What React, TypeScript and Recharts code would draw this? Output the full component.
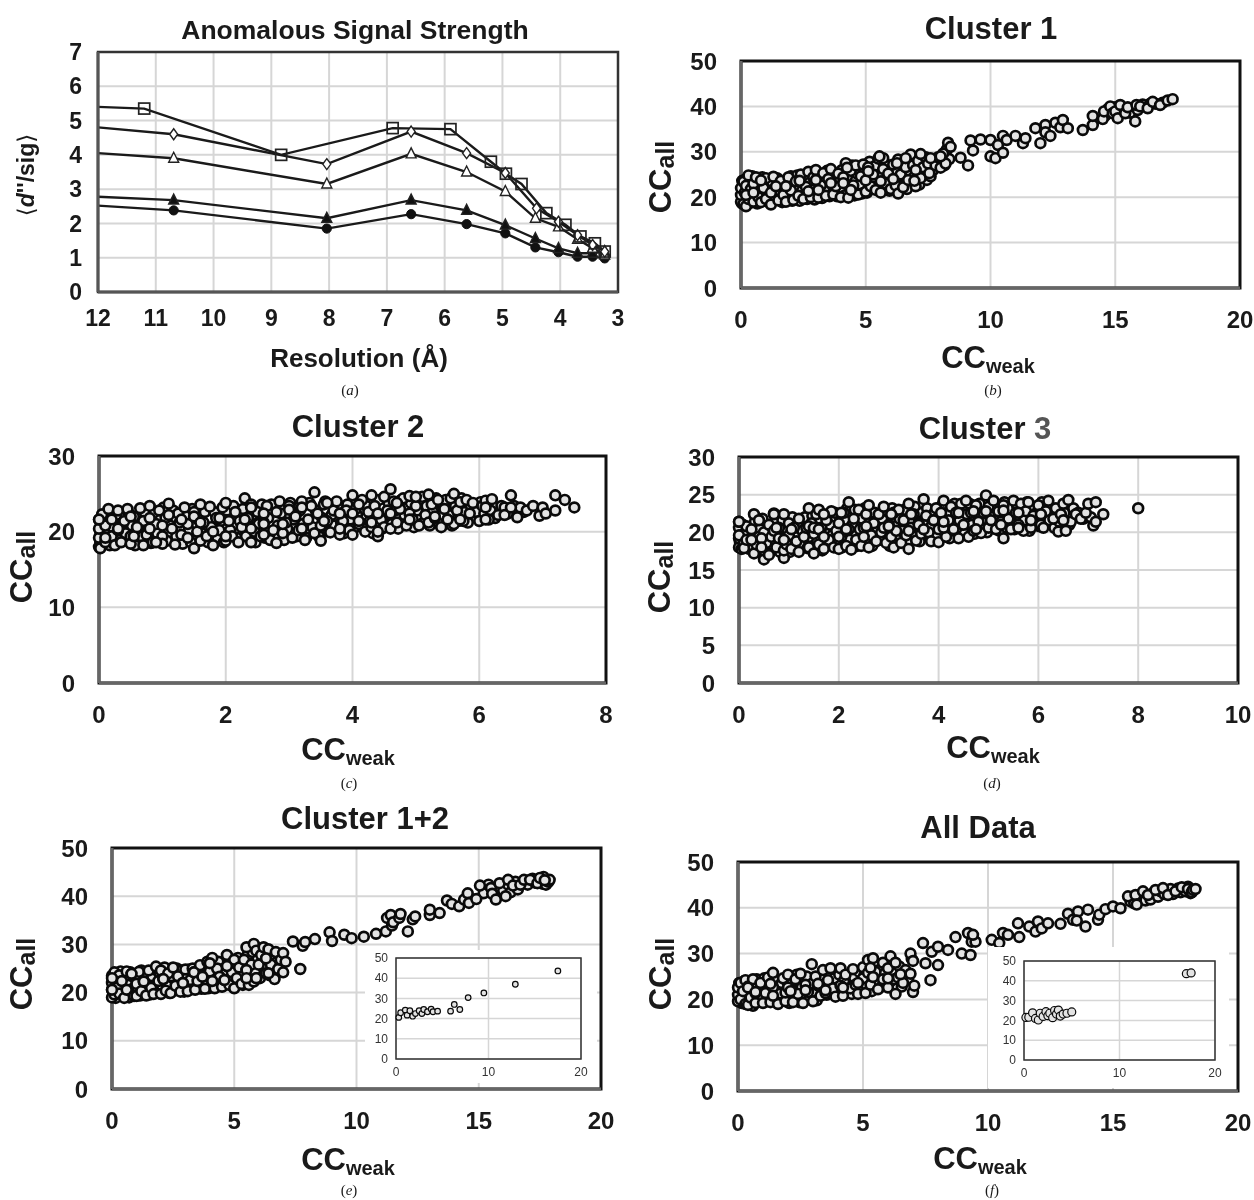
import { CSSProperties, ReactNode } from "react";
import {
  CartesianGrid,
  Line,
  LineChart,
  ReferenceArea,
  Scatter,
  ScatterChart,
  XAxis,
  YAxis,
} from "recharts";

type Pair = number[];

// panel (a): [resolution, <d''/sig>]
const squareSeries: Pair[] = [[12, 5.4], [11.2, 5.35], [8.83, 4.0], [6.9, 4.78], [5.9, 4.75], [5.2, 3.8], [4.94, 3.45], [4.67, 3.15], [4.24, 2.3], [3.91, 1.96], [3.65, 1.62], [3.4, 1.42], [3.23, 1.18]];
const diamondSeries: Pair[] = [[12, 4.8], [10.69, 4.6], [8.04, 3.73], [6.58, 4.68], [5.62, 4.05], [4.95, 3.47], [4.41, 2.44], [4.03, 2.05], [3.7, 1.66], [3.44, 1.37], [3.23, 1.18]];
const openTriangleSeries: Pair[] = [[12, 4.05], [10.69, 3.9], [8.04, 3.15], [6.58, 4.03], [5.62, 3.5], [4.95, 2.93], [4.43, 2.15], [4.03, 1.9], [3.7, 1.54], [3.44, 1.28], [3.23, 1.08]];
const filledTriangleSeries: Pair[] = [[12, 2.78], [10.69, 2.68], [8.04, 2.15], [6.58, 2.68], [5.62, 2.38], [4.95, 1.95], [4.43, 1.56], [4.03, 1.27], [3.7, 1.13], [3.44, 1.13], [3.23, 1.18]];
const filledCircleSeries: Pair[] = [[12, 2.52], [10.69, 2.38], [8.04, 1.85], [6.58, 2.27], [5.62, 1.98], [4.95, 1.71], [4.43, 1.3], [4.03, 1.16], [3.7, 1.03], [3.44, 1.03], [3.23, 0.98]];

// densest part of each cloud, drawn first so it sits under the rings you can still read
const cluster1Under: Pair[] = [
  [0.05, 18.6], [0.05, 23.6], [0.1, 21.4], [0.2, 24], [0.25, 19], [0.35, 22.6], [0.4, 18.8], [0.45, 24.6], [0.6, 20.6], [0.65, 18.6], [0.75, 23], [0.85, 24.4], [0.9, 20.4], [1.05, 22.8], [1.1, 18.9], [1.25, 23.4], [1.35, 20], [1.45, 24.2], [1.55, 21.4], [1.65, 18.9],
  [1.75, 23], [1.85, 20.6], [2, 24.6], [2.05, 19.2], [2.15, 21.8], [2.25, 24.8], [2.35, 19.2], [2.45, 21.4], [2.55, 24.6], [2.65, 19.6], [2.75, 23.2], [2.85, 21.6], [2.95, 19.5], [3.05, 25.4], [3.15, 24], [3.25, 19.8], [3.35, 22], [3.45, 25.8], [3.55, 20.2], [3.65, 22.8],
  [3.75, 25], [3.85, 20.2], [3.95, 23.4], [4.05, 26], [4.15, 20.4], [4.25, 24.6], [4.35, 22], [4.45, 27], [4.55, 20.4], [4.65, 25.2], [4.75, 22.8], [4.85, 20.8], [4.95, 25.8], [5.05, 21], [5.15, 27.8], [5.25, 24], [5.35, 26.8], [5.45, 22.4], [5.55, 25], [5.65, 21.8],
  [5.75, 27.6], [5.85, 24.2], [5.95, 21.4], [6.05, 26], [6.15, 23.2], [6.25, 25.6], [6.35, 22], [6.45, 28], [6.55, 24.4], [6.65, 21.8], [6.75, 25.8], [6.85, 28.4], [6.95, 24.6], [7.05, 27], [7.15, 22.8], [7.25, 28.4], [7.35, 25.4], [7.45, 23.8], [7.55, 27], [7.7, 26],
  [7.85, 27.8], [8.05, 28], [8.15, 27], [8.25, 30.5], [8.35, 28.4], [14.6, 38], [14.7, 39.4], [15, 39.8], [15.1, 38.2], [15.3, 39.4], [15.6, 38.6], [15.9, 39.2], [16.1, 40.4], [16.4, 40.6], [16.6, 40.6], [16.9, 40.8],
];

const cluster2Under: Pair[] = [
  [0.02, 18.6], [0.02, 20], [0.04, 21], [0.08, 22.2], [0.12, 19.6], [0.17, 18.2], [0.22, 20.6], [0.27, 22.2], [0.32, 18.9], [0.37, 21], [0.42, 19.8], [0.47, 22.4], [0.52, 20.8], [0.57, 18.2], [0.62, 21.8], [0.67, 19.4], [0.72, 22.6], [0.77, 20.2], [0.82, 18.5], [0.87, 22.4],
  [0.92, 19.8], [0.97, 21.6], [1.02, 23.2], [1.07, 18.8], [1.12, 20.8], [1.17, 22.8], [1.22, 19.4], [1.27, 21.2], [1.32, 18.4], [1.37, 22.2], [1.42, 20.2], [1.47, 23], [1.52, 18.8], [1.57, 21.6], [1.62, 19.8], [1.67, 22.6], [1.72, 18.6], [1.77, 20.6], [1.82, 22.6], [1.87, 19.2],
  [1.92, 21.4], [1.97, 18.6], [2.02, 22.8], [2.07, 20.2], [2.12, 23.4], [2.17, 19.2], [2.22, 21.4], [2.27, 23], [2.32, 19.4], [2.37, 20.8], [2.42, 22.2], [2.47, 18.6], [2.52, 21], [2.57, 23.6], [2.62, 19.2], [2.67, 21.8], [2.72, 23.6], [2.77, 19.6], [2.82, 20.8], [2.87, 22.4],
  [2.92, 18.9], [2.97, 20.4], [3.02, 23.8], [3.07, 21.6], [3.12, 19.4], [3.17, 22.8], [3.22, 21], [3.27, 19.2], [3.32, 23.8], [3.37, 20.6], [3.42, 22.8], [3.47, 19.4], [3.52, 21.8], [3.57, 24], [3.62, 20], [3.67, 22.2], [3.72, 20.8], [3.77, 23.6], [3.82, 21.2], [3.87, 19.8],
  [3.92, 23.6], [3.97, 21.6], [4.02, 20.4], [4.07, 22.2], [4.12, 24], [4.17, 20.8], [4.22, 23.4], [4.27, 21.4], [4.32, 19.8], [4.37, 21.8], [4.42, 24.2], [4.47, 20.4], [4.52, 22.2], [4.57, 23.8], [4.62, 21], [4.67, 22.8], [4.72, 20.4], [4.77, 24.2], [4.82, 22.2], [4.87, 21],
  [4.92, 23.8], [4.97, 20.6], [5.02, 22.8], [5.07, 24.2], [5.12, 21.2], [5.17, 23.4], [5.22, 20.8], [5.27, 22.6], [5.32, 24.4], [5.37, 21], [5.42, 23.2], [5.47, 24.2], [5.52, 22.2], [5.57, 20.8], [5.62, 23.4], [5.67, 21.4], [5.72, 24.4], [5.77, 22.6], [5.82, 21.2], [5.87, 23.4],
  [5.95, 22.6], [6.02, 23.9], [6.08, 22.4], [6.18, 22.8], [6.25, 21.8], [6.35, 23.4], [6.45, 22.4], [6.55, 23.4], [6.7, 22.6],
];

const cluster3Under: Pair[] = [
  [0.02, 18.6], [0.03, 20], [0.08, 21], [0.12, 18.2], [0.17, 19.4], [0.22, 20.6], [0.27, 18.2], [0.32, 21.4], [0.37, 17.4], [0.42, 20.4], [0.47, 21.8], [0.52, 18.9], [0.57, 17.4], [0.62, 20], [0.67, 18.4], [0.72, 21.4], [0.77, 19.4], [0.82, 17.4], [0.87, 21.6], [0.92, 18.4],
  [0.97, 20.2], [1.02, 17.4], [1.07, 22], [1.12, 19.4], [1.17, 21], [1.22, 18.4], [1.27, 20.2], [1.32, 22], [1.37, 17.9], [1.42, 19.4], [1.47, 22.2], [1.52, 21.2], [1.57, 18.8], [1.62, 21.8], [1.67, 17.6], [1.72, 20.2], [1.77, 18.4], [1.82, 21], [1.87, 19.6], [1.92, 22.6],
  [1.97, 18.4], [2.02, 20.6], [2.07, 18], [2.12, 21.6], [2.17, 23.2], [2.22, 19], [2.27, 21], [2.32, 23], [2.37, 18.2], [2.42, 20.4], [2.47, 21.8], [2.52, 23.2], [2.57, 18.8], [2.62, 21.4], [2.67, 18.2], [2.72, 22.6], [2.77, 20.6], [2.82, 19], [2.87, 21.8], [2.92, 20.2],
  [2.97, 22.8], [3.02, 18.2], [3.07, 23.2], [3.12, 20.8], [3.17, 19], [3.22, 21.8], [3.27, 20.2], [3.32, 23], [3.37, 18.6], [3.42, 21.6], [3.47, 19.8], [3.52, 23.4], [3.57, 20.6], [3.62, 18.8], [3.67, 22.6], [3.72, 21], [3.77, 23.2], [3.82, 19.4], [3.87, 21], [3.92, 22.6],
  [3.97, 19.6], [4.02, 21.4], [4.07, 23.6], [4.12, 20], [4.17, 22.6], [4.22, 19.2], [4.27, 21], [4.32, 23.8], [4.37, 20], [4.42, 21.6], [4.47, 23.2], [4.52, 19.8], [4.57, 22.4], [4.62, 23.8], [4.67, 21], [4.72, 19.8], [4.77, 22.4], [4.82, 23.8], [4.87, 20.8], [4.92, 21.8],
  [4.97, 20], [5.02, 22.2], [5.07, 23.8], [5.12, 21], [5.17, 23.4], [5.22, 20.2], [5.27, 22.4], [5.32, 24], [5.37, 20.6], [5.42, 23.2], [5.47, 21.6], [5.52, 20.4], [5.57, 23.6], [5.62, 22], [5.67, 20.4], [5.72, 21.6], [5.77, 24], [5.82, 20.2], [5.87, 23.2], [5.92, 21.4],
  [5.97, 22.6], [6.02, 20.8], [6.07, 24], [6.12, 21.8], [6.22, 21.6], [6.27, 23.2], [6.32, 20.6], [6.42, 21.4], [6.52, 22.6], [6.62, 21], [6.7, 23.2], [6.8, 22.6], [6.9, 21.8], [7.05, 22],
];

const cluster12Under: Pair[] = [
  [0.05, 21.6], [0.15, 18.9], [0.15, 23], [0.25, 21.8], [0.35, 24.4], [0.45, 19.6], [0.55, 23], [0.65, 21.6], [0.7, 19], [0.75, 24.2], [0.85, 20.8], [0.95, 23], [1.05, 21], [1.15, 19.4], [1.2, 24.6], [1.25, 21.8], [1.35, 23.6], [1.45, 20.6], [1.55, 19.6], [1.65, 23.4],
  [1.75, 24.8], [1.85, 20.4], [1.95, 24], [2.05, 21.4], [2.15, 25.2], [2.25, 21.4], [2.35, 19.9], [2.45, 23.4], [2.55, 20.4], [2.65, 25], [2.75, 22], [2.85, 24.6], [2.95, 20.2], [3.05, 23], [3.15, 24.8], [3.25, 21], [3.45, 24.6], [3.55, 21.4], [3.65, 20.8], [3.75, 25.4],
  [3.85, 22.4], [3.95, 20.9], [4.05, 24.8], [4.15, 26.6], [4.25, 23.4], [4.35, 26.4], [4.45, 24.8], [4.55, 21.4], [4.65, 24], [4.75, 27], [4.85, 22.8], [4.95, 25.8], [5.05, 22], [5.15, 27.2], [5.25, 23.8], [5.35, 21.6], [5.45, 25.8], [5.55, 27.8], [5.65, 23], [5.75, 28.4],
  [5.85, 24.2], [5.95, 26.8], [6.05, 23], [6.15, 27.6], [6.25, 25], [6.35, 28], [6.45, 23.6], [6.55, 27.4], [6.75, 26.4], [6.85, 27.8], [15.2, 40.6], [15.4, 42.4], [15.7, 41], [16, 41.2], [16.2, 42.4], [16.3, 40.8], [16.5, 43], [16.6, 41.4], [16.8, 42.6], [17, 42.4], [17.2, 43.6], [17.3, 42.8], [17.6, 42.6], [17.65, 44],
];

const allDataUnder: Pair[] = [
  [0.05, 20.4], [0.05, 23.6], [0.15, 19.2], [0.15, 22], [0.25, 24], [0.25, 20.2], [0.35, 22.4], [0.45, 19.6], [0.55, 23.4], [0.6, 18.6], [0.65, 21.2], [0.75, 24.4], [0.85, 20], [0.95, 22.2], [1.05, 24.6], [1.15, 19.6], [1.25, 22.8], [1.35, 20.6], [1.45, 24.2], [1.55, 21.8],
  [1.65, 19.6], [1.75, 23.6], [1.85, 20.4], [1.95, 24], [2.05, 19.2], [2.15, 23.4], [2.25, 21], [2.35, 25.4], [2.45, 19.4], [2.55, 22.6], [2.65, 20.4], [2.75, 25], [2.85, 20], [2.95, 23.4], [3.05, 21.4], [3.15, 19.8], [3.25, 24.4], [3.35, 22.6], [3.45, 24.8], [3.55, 21], [3.65, 26],
  [3.75, 23.2], [3.85, 24.6], [3.95, 21.4], [4.05, 25.4], [4.15, 21.8], [4.25, 24.2], [4.35, 22], [4.45, 25.4], [4.55, 21.2], [4.65, 24.8], [4.75, 22.2], [4.85, 26], [4.95, 22.6], [5.05, 25.2], [5.15, 23], [5.25, 27.4], [5.35, 21.8], [5.45, 27.6], [5.55, 24], [5.65, 26.4],
  [5.75, 22.8], [5.85, 25.6], [5.95, 27.6], [6.05, 23.6], [6.15, 28], [6.25, 24.4], [6.45, 27.2], [6.55, 22.8], [6.7, 26.4], [6.8, 24.4], [6.95, 28.8],
  [15.7, 41.4], [15.85, 41], [16, 41.6], [16.1, 42.4], [16.3, 41.6], [16.5, 41.8], [16.6, 43.2], [16.8, 42.4], [16.9, 43.6], [17.05, 43], [17.3, 44.1], [17.4, 43], [17.6, 44.2], [17.7, 43.4], [17.9, 43.6], [18, 44.6], [18.1, 43.2],
];

const cluster1Points: Pair[] = [
  [0, 19], [0, 20.5], [0, 22], [0.1, 18.5], [0.1, 23.4], [0.15, 21], [0.2, 18], [0.2, 22.5], [0.3, 19.6], [0.3, 24.8], [0.4, 21.8], [0.5, 19], [0.5, 23], [0.6, 24.4], [0.7, 20], [0.8, 18.9], [0.9, 22], [1, 24.2], [1, 19.6], [1.2, 18.4],
  [1.2, 21], [1.3, 24.5], [1.5, 19.3], [1.6, 23.6], [1.7, 20.5], [1.8, 19], [1.9, 24.4], [2, 21.5], [2.1, 19.4], [2.2, 23.5], [2.3, 20.3], [2.4, 25], [2.5, 19.6], [2.6, 22.3], [2.7, 25.6], [2.8, 20], [2.9, 24.4], [3, 26], [3.1, 19.9], [3.2, 22.6],
  [3.3, 25.3], [3.4, 20.3], [3.5, 24], [3.6, 26.2], [3.7, 20.6], [3.8, 22.4], [3.9, 25.2], [4, 20], [4.1, 24.4], [4.2, 27.5], [4.3, 19.9], [4.4, 25.8], [4.5, 22.6], [4.6, 27], [4.7, 20.6], [4.8, 24.6], [4.9, 27.2], [5, 21.2], [5.1, 26.6], [5.2, 22.4],
  [5.3, 25], [5.4, 21.6], [5.5, 28.5], [5.6, 21], [5.7, 26.2], [5.7, 28.6], [5.8, 23], [5.9, 25.2], [6, 21.8], [6.1, 27.2], [6.2, 22.6], [6.3, 20.8], [6.3, 28.3], [6.4, 25], [6.5, 22.2], [6.6, 26.6], [6.7, 23.8], [6.8, 29.4], [6.9, 27], [7, 22.4],
  [7.1, 28], [7.2, 24.2], [7.3, 26.6], [7.4, 28.8], [7.5, 27.4], [7.6, 24.6], [7.8, 27], [7.9, 28.8], [8, 26.5], [8.1, 29.6], [8.2, 27.4], [0.2, 20.5], [0.5, 21], [0.8, 23.7], [1.4, 22.4], [1.8, 22.4], [2.35, 23.6], [2.7, 21.3], [3, 23.8], [3.1, 21.6],
  [3.6, 23.1], [4.1, 23.1], [4.25, 26.5], [4.4, 21.6], [5, 23.7], [5.1, 25.7], [5.6, 23.5], [5.55, 29], [6.1, 24], [6.25, 27.5], [6.6, 28.6], [6.95, 23.6], [7, 26], [7.2, 29.5], [7.55, 25.3], [7.6, 28.6], [8, 29],
  [8.3, 32], [8.4, 31.1], [8.8, 28.7], [9.1, 27], [9.2, 32.5], [9.3, 30.3], [9.6, 32.7], [10, 32.6], [10, 29], [10.2, 28.6], [10.3, 31.5], [10.5, 29.8], [10.5, 33.5], [10.65, 32.6], [11, 33.5], [11.3, 31.9], [11.4, 33], [11.8, 35.2], [12, 31.9], [12.2, 35.9],
  [12.2, 34.3], [12.4, 33.5], [12.6, 36.4], [12.8, 35.4], [12.9, 37], [13.1, 35.2], [13.7, 34.8], [14.1, 35.9], [14.1, 37.9], [14.5, 37.2], [14.55, 38.9], [14.8, 40], [14.9, 38.5], [15, 38.9], [15.1, 37.4], [15.2, 40.3], [15.4, 38.5], [15.5, 39.8], [15.8, 36.7], [15.85, 40.3],
  [16, 40], [16.3, 39.6], [16.5, 41], [16.8, 40.3], [17.1, 41.3], [17.3, 41.6],
];

const cluster2Points: Pair[] = [
  [0, 18], [0, 19.2], [0, 20.4], [0, 21.6], [0.02, 17.8], [0.05, 22.3], [0.1, 18.6], [0.1, 20.8], [0.15, 23], [0.2, 19.4], [0.2, 21.6], [0.25, 18.2], [0.3, 22.8], [0.3, 20.2], [0.35, 18.6], [0.4, 21.4], [0.45, 23], [0.5, 19.4], [0.5, 18.4], [0.55, 22],
  [0.6, 20.4], [0.65, 23.1], [0.7, 18.2], [0.7, 21.4], [0.75, 19.6], [0.8, 23.4], [0.85, 18.6], [0.9, 21], [0.95, 22.8], [1, 19.4], [1, 18.4], [1.05, 21.8], [1.1, 23.7], [1.15, 20.4], [1.2, 18.3], [1.25, 22.4], [1.3, 19.6], [1.35, 23.2], [1.4, 21], [1.45, 18.6],
  [1.5, 17.8], [1.5, 22.6], [1.55, 20], [1.6, 23.6], [1.6, 18.8], [1.65, 21.2], [1.7, 19.4], [1.75, 23.3], [1.8, 18.2], [1.85, 21.8], [1.9, 20.2], [1.95, 23.2], [2, 18.8], [2, 23.8], [2.05, 21.4], [2.1, 19.4], [2.15, 22.6], [2.2, 18.6], [2.25, 20.6], [2.3, 24.4],
  [2.35, 21.8], [2.4, 18.6], [2.4, 23.6], [2.45, 20], [2.5, 22.6], [2.55, 19.4], [2.6, 21.2], [2.65, 23.4], [2.7, 18.9], [2.75, 20.2], [2.8, 18.5], [2.8, 22.6], [2.85, 24], [2.9, 19.8], [2.95, 21.2], [3, 23.4], [3.05, 19.2], [3.1, 22.2], [3.15, 20.2], [3.2, 24],
  [3.25, 18.9], [3.3, 21.6], [3.35, 23.4], [3.4, 25.2], [3.4, 19.8], [3.45, 22.4], [3.5, 18.8], [3.5, 20.8], [3.55, 23.6], [3.6, 21.4], [3.65, 19.9], [3.7, 22.8], [3.75, 24], [3.8, 19.6], [3.85, 21.4], [3.9, 22.8], [3.95, 20.2], [4, 24.8], [4, 19.6], [4.05, 23],
  [4.1, 21], [4.15, 24.2], [4.2, 20], [4.25, 22.6], [4.3, 24.8], [4.3, 20.6], [4.35, 23.4], [4.4, 19.4], [4.45, 21.6], [4.5, 24.6], [4.5, 20.6], [4.55, 22.8], [4.6, 25.6], [4.6, 20.4], [4.65, 24], [4.7, 21.2], [4.75, 23], [4.8, 24.4], [4.85, 20.8], [4.9, 22.4],
  [4.9, 24.7], [4.95, 21.6], [5, 23.4], [5.05, 20.8], [5.1, 24.6], [5.15, 22.2], [5.2, 24.9], [5.2, 21.2], [5.25, 23.6], [5.3, 21.8], [5.35, 24.2], [5.4, 20.6], [5.45, 23], [5.5, 21.6], [5.55, 24.4], [5.6, 21], [5.6, 25], [5.65, 22.8], [5.7, 23.9], [5.75, 21.4],
  [5.8, 24.2], [5.85, 22.4], [5.9, 23.8], [6, 21.4], [6.05, 23.4], [6.1, 24.1], [6.15, 21.6], [6.2, 24.3], [6.3, 22.2], [6.4, 23.2], [6.5, 24.8], [6.6, 21.9], [6.65, 23.2], [6.75, 22.8], [6.85, 23.4], [6.95, 22.1], [7, 23.2], [7.05, 22.4], [7.2, 22.8], [7.2, 24.8],
  [7.35, 24.2], [7.5, 23.2], [0, 21.6], [0.1, 19.2], [0.3, 20.4], [0.5, 22], [0.55, 19.4], [0.6, 20.6], [0.8, 21.8], [0.8, 20.4], [0.9, 18.6], [1.0, 20.8], [1.1, 22.2], [1.3, 21.6], [1.4, 19.2], [1.5, 22], [1.6, 21.2], [1.8, 20], [1.9, 21.8], [2, 19.4],
  [2.3, 21.6], [2.4, 20.4], [2.4, 23.2], [2.6, 22.4], [2.6, 21], [2.6, 19.6], [2.9, 21], [3, 22.9], [3.1, 22], [3.2, 20.4], [3.2, 23.2], [3.55, 21.4], [3.6, 23.8], [3.8, 20.4], [3.8, 22.4], [4, 22.4], [4.1, 21.4], [4.1, 23.6], [4.3, 21.2], [4.4, 20], [4.4, 22.4], [4.6, 22.4], [4.7, 23.8], [4.9, 21.6], [5, 24.6], [5.3, 22], [5.5, 21.6], [5.7, 21.6], [6.1, 23.2], [6.1, 21.6], [6.4, 22.2], [6.5, 23.2],
];

const cluster3Points: Pair[] = [
  [0, 18], [0, 19.2], [0, 20.6], [0, 21.4], [0.05, 17.8], [0.1, 18.6], [0.1, 19.8], [0.15, 20.8], [0.2, 17.8], [0.2, 19], [0.25, 20.4], [0.3, 17.2], [0.3, 22.4], [0.35, 18.4], [0.4, 19.4], [0.4, 21.6], [0.5, 16.4], [0.5, 17.6], [0.5, 20], [0.55, 18.6],
  [0.6, 17], [0.6, 21], [0.65, 19.4], [0.7, 20.2], [0.7, 22.5], [0.75, 18], [0.8, 19.2], [0.8, 20.6], [0.9, 16.6], [0.9, 22.4], [0.9, 17.6], [0.95, 18.4], [1, 19.6], [1, 21.2], [1.05, 17.8], [1.1, 20.6], [1.15, 18.8], [1.2, 17.4], [1.2, 21.8], [1.3, 19.4],
  [1.35, 20.6], [1.4, 18], [1.4, 23.2], [1.45, 21.2], [1.5, 17.2], [1.5, 19.8], [1.55, 22.4], [1.6, 18.4], [1.6, 23], [1.65, 20.6], [1.7, 17.8], [1.75, 21.6], [1.8, 19], [1.85, 22.8], [1.9, 18], [1.95, 20.2], [2, 17.8], [2, 21.2], [2.05, 19.4], [2.1, 22.6],
  [2.15, 18.2], [2.2, 24], [2.2, 20.4], [2.25, 17.7], [2.3, 21.8], [2.35, 19], [2.4, 23], [2.45, 18.2], [2.5, 20.6], [2.55, 22.4], [2.6, 18], [2.6, 23.6], [2.65, 19.6], [2.7, 21.2], [2.75, 18.8], [2.8, 22.4], [2.85, 20], [2.9, 23.4], [2.95, 18.6], [3, 21],
  [3.05, 19.4], [3.1, 18], [3.1, 22.6], [3.15, 20.2], [3.2, 23], [3.25, 18.6], [3.3, 21.6], [3.35, 19.6], [3.4, 17.8], [3.4, 23.8], [3.45, 20.6], [3.5, 22.4], [3.55, 18.9], [3.6, 21.2], [3.65, 19.8], [3.7, 24.4], [3.75, 22.2], [3.8, 20], [3.85, 18.8], [3.9, 21.6],
  [3.95, 23.2], [4, 18.7], [4, 20.4], [4.05, 22.6], [4.1, 24.2], [4.15, 19.4], [4.2, 21.6], [4.25, 23.4], [4.3, 20.4], [4.35, 22.6], [4.4, 19.2], [4.45, 23.8], [4.5, 21], [4.55, 24.2], [4.6, 19.4], [4.65, 22.6], [4.7, 20.2], [4.75, 23.6], [4.8, 21.4], [4.85, 19.9],
  [4.9, 22.6], [4.95, 24.9], [5, 20.6], [5, 23.4], [5.05, 21.6], [5.1, 24.2], [5.15, 20.4], [5.2, 22.8], [5.25, 21.4], [5.3, 19.2], [5.3, 23.6], [5.4, 21.8], [5.45, 20.4], [5.5, 24.2], [5.55, 22.6], [5.6, 21], [5.65, 23.8], [5.7, 20.2], [5.75, 22.8], [5.8, 24],
  [5.85, 20.6], [5.9, 22.2], [6, 23.6], [6.05, 21], [6.1, 20.6], [6.15, 22.8], [6.2, 24.2], [6.3, 21.8], [6.35, 23.2], [6.4, 20.1], [6.45, 22.4], [6.5, 23.8], [6.55, 20.2], [6.6, 24.3], [6.65, 21.4], [6.75, 22.4], [6.85, 21.8], [6.95, 22.6], [7, 23.8], [7.1, 20.9],
  [7.15, 24], [7.15, 21.4], [7.3, 22.4], [8, 23.2], [0, 21.4], [0, 19.6], [0.1, 17.9], [0.15, 19], [0.25, 19], [0.45, 19.2], [0.45, 18], [0.7, 22.4], [0.75, 20.6], [0.9, 19], [1.05, 20.4], [1.4, 20.8], [1.5, 20.6], [1.6, 20.4], [1.7, 22.4], [1.7, 19.4],
  [2, 19.4], [2.05, 22.6], [2.15, 20.4], [2.55, 20.8], [2.5, 19.4], [2.9, 20.6], [3, 20.8], [3.05, 22.4], [3.4, 20.2], [3.45, 22.4], [3.6, 21], [3.7, 20.4], [3.9, 21.6], [4.1, 20.6], [4.1, 21.4], [4.4, 22.6], [4.7, 22.8], [4.75, 20.4], [4.95, 22.8], [5.25, 21], [5.3, 22.9], [5.6, 20.6], [5.6, 22.6], [5.85, 21.6], [6.05, 22.4], [6.5, 21.6],
];

const cluster12Points: Pair[] = [
  [0, 19], [0, 20.6], [0, 22], [0, 23.5], [0.1, 24.2], [0.1, 19.6], [0.2, 21], [0.3, 23.6], [0.3, 19.8], [0.4, 22.4], [0.5, 18.9], [0.6, 24.4], [0.6, 20.6], [0.8, 23.9], [0.9, 19.3], [1, 21.8], [1.1, 24.3], [1, 19.3], [1.2, 20.3], [1.3, 22.3],
  [1.4, 19.4], [1.5, 24.6], [1.6, 21], [1.7, 19.7], [1.8, 25.4], [1.9, 22.4], [2, 19.7], [2, 24.6], [2.1, 22.8], [2.2, 20.4], [2.3, 24], [2.4, 19.9], [2.5, 25.2], [2.6, 21.4], [2.7, 23.4], [2.8, 20.2], [2.9, 22], [3, 24.8], [3.1, 20.3], [3.2, 22.6],
  [3.3, 25], [3.35, 24.2], [3.4, 20.6], [3.5, 22.4], [3.6, 25.7], [3.7, 23.3], [3.8, 20.8], [3.9, 26.4], [4, 26.1], [4, 24.4], [4.1, 22.4], [4.1, 27.2], [4.2, 20.9], [4.3, 25], [4.4, 23.3], [4.5, 21.2], [4.6, 22.6], [4.7, 27.8], [4.7, 25.5], [4.8, 21.6],
  [4.9, 24.2], [5, 26.8], [5, 20.9], [5.1, 23], [5.2, 25.2], [5.3, 21.8], [5.4, 26.8], [5.5, 29.4], [5.5, 24.7], [5.5, 23], [5.6, 21.6], [5.7, 25.8], [5.8, 30.1], [5.8, 22.3], [5.9, 28.7], [5.9, 23], [6, 25.8], [6.1, 27.8], [6.2, 29.4], [6.3, 27.1],
  [6.3, 24], [6.4, 29], [6.5, 25.8], [6.65, 22.8], [6.7, 28.4], [6.8, 24.9], [6.9, 26.8], [7, 28.2], [7, 24.2], [7.1, 26.4], [7.4, 30.6], [7.7, 24.9], [7.8, 29.7], [7.9, 30.5], [0, 23], [0, 20.6], [0.8, 23.9], [1.3, 22.3], [2.1, 22.8], [2.9, 22], [3.35, 24.2], [3.7, 23.3], [4.1, 22.4], [4, 26.1], [4.6, 22.6], [4.7, 25.5], [5.5, 24.7], [5.5, 23], [5.9, 23], [6.3, 27.1], [6.4, 24],
  [8.3, 31.1], [8.9, 32.5], [9, 30.7], [9.5, 32], [9.8, 31.3], [10.3, 31.6], [10.8, 32.2], [11.2, 32.7], [11.25, 35.5], [11.4, 36.1], [11.45, 33.9], [11.5, 34.6], [11.75, 35.5], [11.8, 36.3], [12.1, 32.7], [12.3, 35.2], [12.4, 35.8], [13, 36.1], [13, 37.2], [13.4, 36.5],
  [13.7, 39.1], [13.9, 38.4], [14.2, 37.9], [14.4, 39.3], [14.55, 40.6], [14.6, 38.6], [14.9, 39.4], [15.05, 42.2], [15.5, 41.7], [15.55, 40.5], [15.7, 39.3], [15.85, 42.7], [16.1, 40], [16.2, 43.4], [16.4, 42.2], [16.7, 42.4], [16.85, 43.4], [17.1, 43.4], [17.4, 42.7], [17.5, 43.8], [17.75, 42.4], [17.85, 43], [17.9, 43.4], [17.7, 43.3],
];

const allDataPoints: Pair[] = [
  [0, 19.6], [0, 21], [0, 22.6], [0.1, 23.6], [0.1, 20], [0.2, 21.8], [0.3, 19], [0.3, 24.2], [0.4, 18.8], [0.4, 22.8], [0.5, 20.4], [0.6, 24.4], [0.7, 19.2], [0.7, 21.4], [0.9, 23.6], [1, 19.2], [1.1, 21.4], [1.2, 24.8], [1.3, 19.4], [1.4, 25.8],
  [1.4, 22.6], [1.6, 19], [1.7, 21.3], [1.8, 24.6], [1.9, 19.6], [2, 25.4], [2.1, 22.2], [2.2, 19.4], [2.3, 24.4], [2.4, 21.2], [2.5, 25.6], [2.6, 19.2], [2.7, 23.2], [2.8, 21.6], [2.95, 27.7], [3, 19.6], [3.1, 25], [3.2, 23], [3.3, 20.8], [3.4, 26.4],
  [3.5, 21.4], [3.6, 24.2], [3.7, 26.8], [3.8, 22.4], [3.9, 20.6], [4.1, 26.8], [4.1, 23], [4.2, 20.8], [4.3, 25.4], [4.5, 22.4], [4.6, 26.6], [4.7, 23.2], [4.8, 21.2], [5, 27], [5, 24.6], [5.1, 21.4], [5.2, 28.6], [5.2, 25.8], [5.3, 23.2], [5.4, 29],
  [5.5, 26], [5.6, 22.2], [5.8, 28], [5.8, 24.4], [6, 26.8], [6, 22.6], [6.1, 29.4], [6.3, 21.2], [6.3, 28], [6.4, 24.8], [6.6, 23.6], [6.9, 30], [6.9, 25.6], [7, 28.4], [7, 21.6], [7.05, 23],
  [0.4, 22.6], [0.7, 21.6], [1.3, 23.4], [1.4, 20.8], [1.9, 21.5], [2, 22.6], [2.1, 21.8], [2.7, 22], [3.2, 23.4], [3.5, 22], [4.2, 22.6], [4.8, 23.6], [5.3, 26.9], [5.4, 24.9], [6, 24.6], [6.5, 25.5],
  [7.4, 32.3], [7.5, 27.9], [7.7, 24.2], [7.75, 30.4], [8, 27.5], [8, 31.5], [8.4, 30.8], [8.7, 33.6], [8.95, 30], [9.2, 34.5], [9.3, 29.7], [9.35, 32.6], [9.5, 32.6], [9.4, 34.1], [10.15, 33], [10.45, 32.3], [10.6, 34.5], [10.8, 34.1], [11.25, 33.6], [11.2, 36.6],
  [11.65, 35.9], [11.9, 34.8], [12, 37], [12.15, 35.5], [12.4, 36.6], [12.9, 36.5], [13.2, 38.7], [13.4, 37.4], [13.6, 39.2], [13.55, 37.2], [13.9, 35.9], [14, 39.6], [14.4, 37.4], [14.45, 38.5], [14.7, 39.7], [15, 40.3], [15.3, 39.9], [15.6, 42.5], [15.9, 42.8], [15.95, 40.7],
  [16.2, 43.6], [16.4, 42.8], [16.7, 43.9], [17, 44.3], [17.2, 42.8], [17.5, 43.6], [17.75, 44.5], [18, 44.1], [18.15, 43.4], [18.2, 43.9], [18.3, 44.1],
];

const insetEPoints: Pair[] = [[0.3, 20.6], [0.5, 22.9], [1, 24.2], [1.2, 21.7], [1.5, 23.9], [1.8, 21.2], [2.1, 22.5], [2.5, 23.9], [2.8, 22.5], [3, 24.5], [3.4, 23.4], [3.8, 24.7], [4, 23.4], [4.5, 23.7], [5.9, 23.7], [6.3, 27], [6.9, 24.5], [7.8, 30.4], [9.5, 32.7], [12.9, 37], [17.5, 43.6]];
const insetFPoints: Pair[] = [[0.2, 21.5], [0.5, 21.6], [0.9, 23.8], [1.2, 21], [1.5, 20.2], [1.7, 23.6], [2, 22], [2.3, 24.4], [2.5, 22.4], [2.7, 23.6], [3, 21.4], [3.2, 25], [3.4, 23.2], [3.6, 25.2], [3.8, 22.2], [4.1, 23.2], [4.5, 23.6], [5, 24.3], [17, 43.6], [17.5, 44]];

const ticks0to20 = [0, 5, 10, 15, 20];
const ticks0to50 = [0, 10, 20, 30, 40, 50];

const FONT = '"Liberation Sans", Arial, sans-serif';
const GRID = "#d6d6d6";

function toRows(points: Pair[]) {
  return points.map(([x, y]) => ({ x, y }));
}

type Rect = { left: number; top: number; right: number; bottom: number };

const Ring = (r: number, sw: number) => (p: any) => (
  <circle cx={p.cx} cy={p.cy} r={r} fill="#e3e3e3" stroke="#0a0a0a" strokeWidth={sw} />
);

function Abs({ x, y, style, children }: { x: number; y: number; style?: CSSProperties; children: ReactNode }) {
  return (
    <div
      style={{
        position: "absolute",
        left: x,
        top: y,
        transform: "translate(-50%, -50%)",
        whiteSpace: "nowrap",
        fontFamily: FONT,
        fontWeight: 700,
        color: "#1a1a1a",
        ...style,
      }}
    >
      {children}
    </div>
  );
}

function Title({ x, y, size = 31, children }: { x: number; y: number; size?: number; children: ReactNode }) {
  return (
    <Abs x={x} y={y} style={{ fontSize: size }}>
      {children}
    </Abs>
  );
}

function CCWeak({ x, y }: { x: number; y: number }) {
  return (
    <Abs x={x} y={y} style={{ fontSize: 31 }}>
      CC<span style={{ fontSize: 20, position: "relative", top: 5 }}>weak</span>
    </Abs>
  );
}

function CCAll({ x, y }: { x: number; y: number }) {
  return (
    <Abs x={x} y={y} style={{ fontSize: 31, transform: "translate(-50%, -50%) rotate(-90deg)" }}>
      CC<span style={{ fontSize: 25, position: "relative", top: 3 }}>all</span>
    </Abs>
  );
}

function Caption({ x, y, letter }: { x: number; y: number; letter: string }) {
  return (
    <Abs x={x} y={y} style={{ fontFamily: '"Liberation Serif", serif', fontWeight: 400, fontSize: 15 }}>
      (<i>{letter}</i>)
    </Abs>
  );
}

function ScatterPanel({
  rect,
  points,
  xMax,
  yMax,
  xTicks,
  yTicks,
}: {
  rect: Rect;
  points: Pair[];
  xMax: number;
  yMax: number;
  xTicks: number[];
  yTicks: number[];
}) {
  const tick = { fontFamily: FONT, fontWeight: 700, fontSize: 24, fill: "#1a1a1a" };
  return (
    <div style={{ position: "absolute", left: rect.left - 70, top: rect.top - 20 }}>
      <ScatterChart
        width={rect.right - rect.left + 70 + 26}
        height={rect.bottom - rect.top + 20 + 56}
        margin={{ top: 20, right: 26, left: 0, bottom: 0 }}
      >
        <CartesianGrid stroke={GRID} strokeWidth={2} />
        <XAxis
          type="number"
          dataKey="x"
          domain={[0, xMax]}
          ticks={xTicks}
          interval={0}
          height={56}
          tick={tick}
          tickLine={false}
          tickMargin={17}
          axisLine={{ stroke: "#666", strokeWidth: 3 }}
        />
        <YAxis
          type="number"
          dataKey="y"
          domain={[0, yMax]}
          ticks={yTicks}
          interval={0}
          width={70}
          tick={tick}
          tickLine={false}
          tickMargin={18}
          axisLine={{ stroke: "#666", strokeWidth: 3 }}
        />
        <ReferenceArea x1={0} x2={xMax} y1={0} y2={yMax} fill="none" stroke="#111" strokeWidth={3} />
        <Scatter data={toRows(points)} isAnimationActive={false} shape={Ring(4.9, 2.7)} />
      </ScatterChart>
    </div>
  );
}

function Inset({
  rect,
  backing,
  points,
  r,
}: {
  rect: Rect;
  backing: Rect;
  points: Pair[];
  r: number;
}) {
  const tick = { fontFamily: FONT, fontWeight: 400, fontSize: 12, fill: "#333" };
  return (
    <>
      <div
        style={{
          position: "absolute",
          left: backing.left,
          top: backing.top,
          width: backing.right - backing.left,
          height: backing.bottom - backing.top,
          background: "#fff",
        }}
      />
      <div style={{ position: "absolute", left: rect.left - 30, top: rect.top - 10 }}>
        <ScatterChart
          width={rect.right - rect.left + 30 + 14}
          height={rect.bottom - rect.top + 10 + 26}
          margin={{ top: 10, right: 14, left: 0, bottom: 0 }}
        >
          <CartesianGrid stroke={GRID} strokeWidth={1.5} />
          <XAxis type="number" dataKey="x" domain={[0, 20]} ticks={[0, 10, 20]} interval={0} height={26} tick={tick} tickLine={false} tickMargin={2} axisLine={false} />
          <YAxis type="number" dataKey="y" domain={[0, 50]} ticks={ticks0to50} interval={0} width={30} tick={tick} tickLine={false} tickMargin={2} axisLine={false} />
          <ReferenceArea x1={0} x2={20} y1={0} y2={50} fill="none" stroke="#333" strokeWidth={1.5} />
          <Scatter data={toRows(points)} isAnimationActive={false} shape={Ring(r, 1.2)} />
        </ScatterChart>
      </div>
    </>
  );
}

function marker(kind: string) {
  return (p: any) => {
    const { cx, cy, payload, index } = p;
    const key = `${kind}-${index}`;
    if (payload.x === 12) return <g key={key} />;
    if (kind === "square") return <rect key={key} x={cx - 5.5} y={cy - 5.5} width={11} height={11} fill="none" stroke="#222" strokeWidth={1.7} />;
    if (kind === "diamond") return <path key={key} d={`M${cx} ${cy - 5.5}L${cx + 4} ${cy}L${cx} ${cy + 5.5}L${cx - 4} ${cy}Z`} fill="#fff" stroke="#222" strokeWidth={1.4} />;
    if (kind === "circF") return <circle key={key} cx={cx} cy={cy} r={4.6} fill="#111" stroke="#111" />;
    return <path key={key} d={`M${cx} ${cy - 6}L${cx + 5} ${cy + 4}L${cx - 5} ${cy + 4}Z`} fill={kind === "triF" ? "#111" : "#fff"} stroke="#222" strokeWidth={1.4} />;
  };
}

function ResolutionPanel({ rect }: { rect: Rect }) {
  const tick = { fontFamily: FONT, fontWeight: 700, fontSize: 23, fill: "#1a1a1a" };
  const series: [string, Pair[]][] = [
    ["circF", filledCircleSeries],
    ["triF", filledTriangleSeries],
    ["triO", openTriangleSeries],
    ["diamond", diamondSeries],
    ["square", squareSeries],
  ];
  return (
    <div style={{ position: "absolute", left: rect.left - 40, top: rect.top - 20 }}>
      <LineChart
        width={rect.right - rect.left + 40 + 26}
        height={rect.bottom - rect.top + 20 + 50}
        margin={{ top: 20, right: 26, left: 0, bottom: 0 }}
      >
        <CartesianGrid stroke={GRID} strokeWidth={2} />
        <XAxis
          type="number"
          dataKey="x"
          domain={[3, 12]}
          reversed
          ticks={[12, 11, 10, 9, 8, 7, 6, 5, 4, 3]}
          interval={0}
          height={50}
          tick={tick}
          tickLine={false}
          tickMargin={12}
          axisLine={{ stroke: "#555", strokeWidth: 3 }}
          allowDuplicatedCategory={false}
        />
        <YAxis
          type="number"
          domain={[0, 7]}
          ticks={[0, 1, 2, 3, 4, 5, 6, 7]}
          interval={0}
          width={40}
          tick={tick}
          tickLine={false}
          tickMargin={10}
          axisLine={{ stroke: "#555", strokeWidth: 3 }}
        />
        <ReferenceArea x1={3} x2={12} y1={0} y2={7} fill="none" stroke="#333" strokeWidth={2.5} />
        {series.map(([kind, pts]) => (
          <Line
            key={kind}
            data={toRows(pts)}
            dataKey="y"
            type="linear"
            stroke="#1a1a1a"
            strokeWidth={2.4}
            dot={marker(kind)}
            isAnimationActive={false}
          />
        ))}
      </LineChart>
    </div>
  );
}

export default function App() {
  return (
    <div style={{ position: "absolute", left: 0, top: 0, width: 1254, height: 1200, background: "#fff", filter: "blur(0.45px)" }}>
      <Title x={355} y={30} size={26.5}>Anomalous Signal Strength</Title>
      <ResolutionPanel rect={{ left: 98, top: 52, right: 618, bottom: 292 }} />
      <Abs x={26} y={175} style={{ fontSize: 23, transform: "translate(-50%, -50%) rotate(-90deg)" }}>
        <span style={{ fontFamily: '"DejaVu Sans"', fontWeight: 400 }}>⟨</span>
        <i>d</i>''/sig
        <span style={{ fontFamily: '"DejaVu Sans"', fontWeight: 400 }}>⟩</span>
      </Abs>
      <Abs x={359} y={358} style={{ fontSize: 26 }}>Resolution (Å)</Abs>
      <Caption x={350} y={390} letter="a" />

      <Title x={991} y={29}>Cluster 1</Title>
      <ScatterPanel rect={{ left: 741, top: 61, right: 1240, bottom: 288 }} points={[...cluster1Under, ...cluster1Points]} xMax={20} yMax={50} xTicks={ticks0to20} yTicks={ticks0to50} />
      <CCAll x={661} y={177} />
      <CCWeak x={988} y={358} />
      <Caption x={993} y={390} letter="b" />

      <Title x={358} y={427}>Cluster 2</Title>
      <ScatterPanel rect={{ left: 99, top: 456, right: 606, bottom: 683 }} points={[...cluster2Under, ...cluster2Points]} xMax={8} yMax={30} xTicks={[0, 2, 4, 6, 8]} yTicks={[0, 10, 20, 30]} />
      <CCAll x={22} y={567} />
      <CCWeak x={348} y={750} />
      <Caption x={349} y={783} letter="c" />

      <Title x={985} y={429}>
        Cluster <span style={{ color: "#555" }}>3</span>
      </Title>
      <ScatterPanel rect={{ left: 739, top: 457, right: 1238, bottom: 683 }} points={[...cluster3Under, ...cluster3Points]} xMax={10} yMax={30} xTicks={[0, 2, 4, 6, 8, 10]} yTicks={[0, 5, 10, 15, 20, 25, 30]} />
      <CCAll x={660} y={577} />
      <CCWeak x={993} y={748} />
      <Caption x={992} y={783} letter="d" />

      <Title x={365} y={819}>Cluster 1+2</Title>
      <ScatterPanel rect={{ left: 112, top: 848, right: 601, bottom: 1089 }} points={[...cluster12Under, ...cluster12Points]} xMax={20} yMax={50} xTicks={ticks0to20} yTicks={ticks0to50} />
      <Inset rect={{ left: 396, top: 958, right: 581, bottom: 1059 }} backing={{ left: 365, top: 950, right: 597, bottom: 1083 }} points={insetEPoints} r={2.8} />
      <CCAll x={22} y={974} />
      <CCWeak x={348} y={1160} />
      <Caption x={349} y={1190} letter="e" />

      <Title x={978} y={828}>All Data</Title>
      <ScatterPanel rect={{ left: 738, top: 862, right: 1238, bottom: 1091 }} points={[...allDataUnder, ...allDataPoints]} xMax={20} yMax={50} xTicks={ticks0to20} yTicks={ticks0to50} />
      <Inset rect={{ left: 1024, top: 961, right: 1215, bottom: 1060 }} backing={{ left: 988, top: 947, right: 1229, bottom: 1088 }} points={insetFPoints} r={4} />
      <CCAll x={661} y={974} />
      <CCWeak x={980} y={1159} />
      <Caption x={992} y={1190} letter="f" />
    </div>
  );
}
